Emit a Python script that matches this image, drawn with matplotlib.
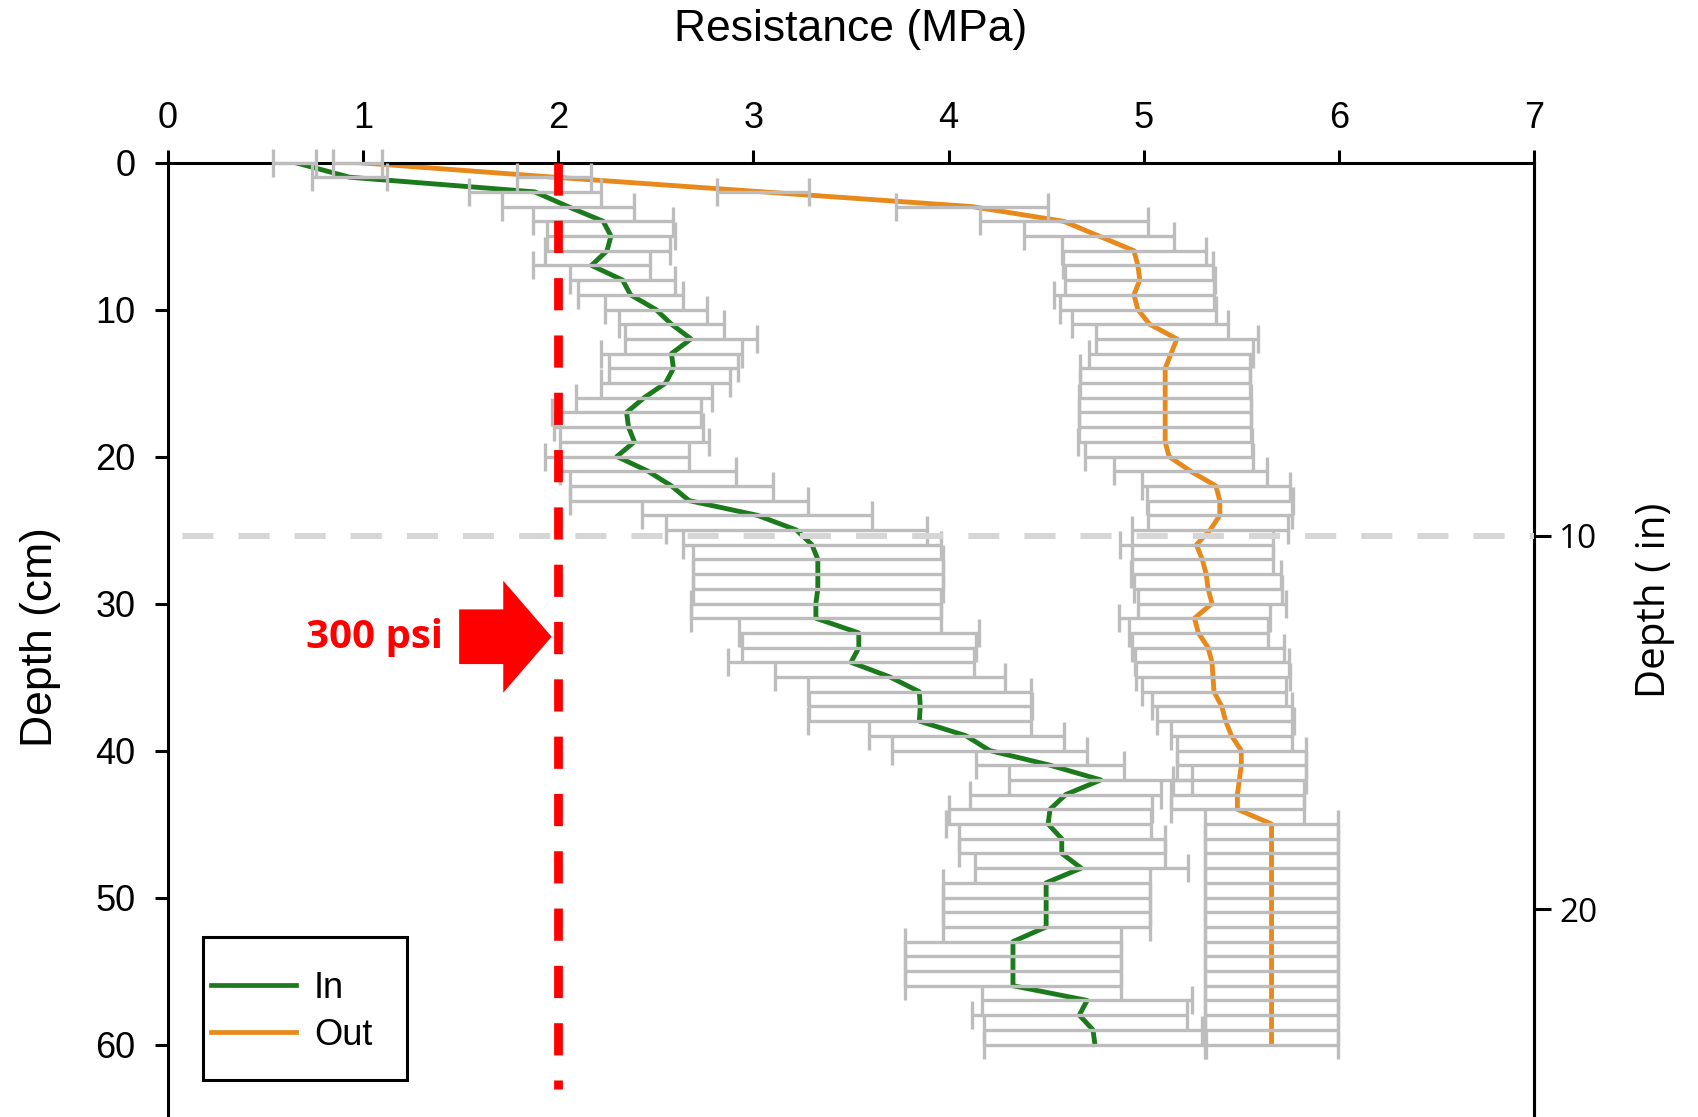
import matplotlib
matplotlib.use("Agg")
import matplotlib.pyplot as plt
from matplotlib.patches import FancyArrow, Rectangle
from matplotlib.lines import Line2D

# ---------------- data ----------------
depth_cm = list(range(0, 61))

in_mean = [0.65, 0.93, 1.88, 2.05, 2.23, 2.27, 2.25, 2.17, 2.33, 2.37,
           2.50, 2.58, 2.68, 2.58, 2.59, 2.55, 2.44, 2.35, 2.36, 2.39,
           2.30, 2.46, 2.58, 2.67, 3.02, 3.22, 3.30, 3.33, 3.33, 3.33,
           3.32, 3.32, 3.54, 3.54, 3.50, 3.70, 3.85, 3.855, 3.85, 4.09,
           4.21, 4.52, 4.78, 4.60, 4.52, 4.51, 4.58, 4.58, 4.68, 4.50,
           4.50, 4.50, 4.50, 4.33, 4.33, 4.33, 4.33, 4.71, 4.67, 4.74,
           4.75]
in_sd = [0.11, 0.19, 0.34, 0.34, 0.36, 0.33, 0.32, 0.30, 0.27, 0.27,
         0.26, 0.27, 0.34, 0.36, 0.33, 0.33, 0.35, 0.38, 0.38, 0.38,
         0.37, 0.45, 0.52, 0.61, 0.59, 0.67, 0.66, 0.64, 0.64, 0.64,
         0.64, 0.64, 0.615, 0.60, 0.63, 0.59, 0.57, 0.57, 0.57, 0.50,
         0.50, 0.38, 0.47, 0.49, 0.52, 0.525, 0.527, 0.527, 0.546, 0.53,
         0.53, 0.53, 0.53, 0.555, 0.555, 0.555, 0.555, 0.54, 0.55, 0.56,
         0.57]

out_mean = [0.97, 1.98, 3.05, 4.12, 4.59, 4.77, 4.95, 4.97, 4.98, 4.95,
            4.97, 5.03, 5.17, 5.14, 5.11, 5.11, 5.11, 5.11, 5.11, 5.11,
            5.13, 5.24, 5.37, 5.39, 5.39, 5.34, 5.27, 5.30, 5.32, 5.33,
            5.35, 5.26, 5.28, 5.33, 5.35, 5.355, 5.36, 5.40, 5.42, 5.45,
            5.50, 5.50, 5.49, 5.48, 5.48, 5.655, 5.655, 5.655, 5.655, 5.655,
            5.655, 5.655, 5.655, 5.655, 5.655, 5.655, 5.655, 5.655, 5.655, 5.655,
            5.655]
out_sd = [0.125, 0.19, 0.235, 0.39, 0.43, 0.385, 0.37, 0.385, 0.385, 0.41,
          0.40, 0.40, 0.415, 0.42, 0.435, 0.435, 0.44, 0.44, 0.44, 0.445,
          0.43, 0.39, 0.38, 0.375, 0.37, 0.40, 0.39, 0.36, 0.386, 0.378,
          0.38, 0.388, 0.356, 0.39, 0.393, 0.393, 0.37, 0.36, 0.35, 0.31,
          0.33, 0.33, 0.34, 0.34, 0.34, 0.34, 0.34, 0.34, 0.34, 0.34,
          0.34, 0.34, 0.34, 0.34, 0.34, 0.34, 0.34, 0.34, 0.34, 0.34,
          0.34]

series_labels = ["In", "Out"]
x_ticks = [0, 1, 2, 3, 4, 5, 6, 7]
y_ticks = [0, 10, 20, 30, 40, 50, 60]
in_ticks = [10, 20]
threshold_mpa = 2.0          # 300 psi
ref_depth_in = 10            # grey dashed line, 10 in
threshold_label = "300 psi"

# ---------------- style ----------------
GREEN = "#1b7a1b"
ORANGE = "#e8891c"
GREY = "#bdbdbd"
DASHGREY = "#d6d6d6"
SANS = ["Liberation Sans", "DejaVu Sans"]
CAL = ["Open Sans", "DejaVu Sans"]

W, H = 1699, 1117
fig = plt.figure(figsize=(W / 100, H / 100), dpi=100)
fig.patch.set_facecolor("white")

ax_left, ax_right_px, ax_top_px = 168, 1534, 162.5
AW, AH = ax_right_px - ax_left, H - ax_top_px
ax = fig.add_axes([ax_left / W, 0, AW / W, AH / H])
ax.set_xlim(0, 7)
ax.set_ylim(64.93, 0)

# lines first, error bars drawn over them
ax.plot(in_mean, depth_cm, color=GREEN, lw=3.5, zorder=2)
ax.plot(out_mean, depth_cm, color=ORANGE, lw=3.5, zorder=2)
for m, s in ((in_mean, in_sd), (out_mean, out_sd)):
    ax.errorbar(m, depth_cm, xerr=s, fmt="none", ecolor=GREY, elinewidth=2.4,
                capsize=10, capthick=2.4, zorder=3, clip_on=False)

# grey reference line at 10 in
ax.plot([0, 7], [ref_depth_in * 2.54] * 2, color=DASHGREY, lw=4.3,
        linestyle=(7.0, (5.2, 4.2)), zorder=4, dash_capstyle="butt")
# red threshold line
ax.plot([threshold_mpa, threshold_mpa], [0, 63], color="red", lw=6.3,
        linestyle=(0, (3.68, 2.87)), zorder=5, dash_capstyle="butt")

# arrow + text
ax.add_patch(FancyArrow(1.492, 32.26, 0.474, 0, width=3.72, head_width=7.62,
                        head_length=0.248, length_includes_head=True,
                        color="red", lw=0, zorder=6))
ax.text(1.41, 33.05, threshold_label, color="red", fontsize=29, fontweight="bold",
        family=CAL, ha="right", va="baseline", zorder=6)

# axes styling
for side in ("top", "left", "right"):
    ax.spines[side].set_linewidth(2.2)
ax.spines["bottom"].set_visible(False)
ax.xaxis.tick_top()
ax.xaxis.set_label_position("top")
ax.set_xticks(x_ticks)
ax.set_yticks(y_ticks)
ax.tick_params(axis="both", direction="out", length=9.5, width=2.2,
               labelsize=26, pad=14)
ax.tick_params(axis="x", pad=9.5)
for lab in ax.get_xticklabels() + ax.get_yticklabels():
    lab.set_family(SANS)
ax.tick_params(axis="y", right=False)

ax.set_xlabel("Resistance (MPa)", fontsize=32, family=SANS)
ax.xaxis.set_label_coords(0.5, (H - 30) / AH)
ax.xaxis.label.set_va("center")
ax.set_ylabel("Depth (cm)", fontsize=32, family=SANS)
ax.yaxis.set_label_coords((41 - ax_left) / AW, (H - 637) / AH)
ax.yaxis.label.set_va("center")

sec = ax.secondary_yaxis("right", functions=(lambda c: c / 2.54, lambda i: i * 2.54))
sec.set_yticks(in_ticks)
sec.tick_params(direction="out", length=12, width=2.2, labelsize=24, pad=6)
for lab in sec.get_yticklabels():
    lab.set_family(CAL)
sec.spines["right"].set_linewidth(2.2)
fig.text(1655 / W, 1 - 600 / H, "Depth ( in)", fontsize=29, family=CAL,
         rotation=90, ha="center", va="center")

# legend
handles = [Line2D([], [], color=GREEN, lw=3.4), Line2D([], [], color=ORANGE, lw=3.4)]
leg = ax.legend(handles, series_labels, loc="center left",
                bbox_to_anchor=((211 - ax_left) / AW, (H - 1012) / AH),
                frameon=False, borderpad=0, borderaxespad=0, handlelength=2.35,
                handletextpad=0.5, labelspacing=0.33,
                prop={"family": SANS, "size": 26})
ax.add_patch(Rectangle(((203 - ax_left) / AW, (H - 1080) / AH),
                       (407 - 203) / AW, (1080 - 937) / AH,
                       transform=ax.transAxes, fill=False, edgecolor="black", lw=2.2, zorder=7))

fig.savefig("out.png", dpi=100, facecolor="white")
